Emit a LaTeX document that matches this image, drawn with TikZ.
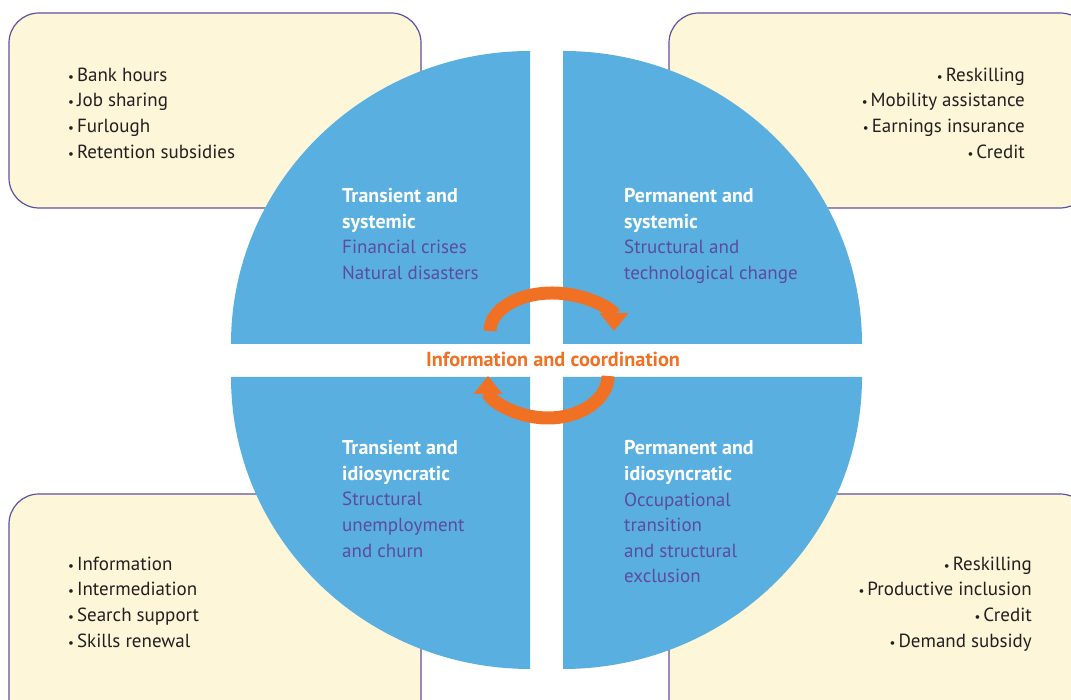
\documentclass[tikz,border=0pt]{standalone}
\usepackage{fontspec}
\setmainfont{PT Sans}
\usetikzlibrary{arrows.meta}
\definecolor{quadblue}{HTML}{5AAFE1}
\definecolor{boxfill}{HTML}{FEF6D8}
\definecolor{boxline}{HTML}{5E519F}
\definecolor{txtpurple}{HTML}{5B4C9C}
\definecolor{txtdark}{HTML}{231F20}
\definecolor{arrorange}{HTML}{F07124}
\newcommand{\hd}[1]{{\fontsize{20}{25.6}\selectfont\bfseries\color{white}#1}}
\newcommand{\itm}{{\fontsize{13}{13}\selectfont\textbullet}\hspace{3pt}}

\begin{document}
\begin{tikzpicture}[x=1pt,y=1pt,
	policybox/.style={draw=boxline,fill=boxfill,line width=1.2pt,% 
		rounded corners=30pt},
	quadrant/.style={fill=quadblue},
	listtext/.style={font=\fontsize{19}{25.6}\selectfont,text=txtdark,% 
		inner sep=0pt},
	quadtext/.style={font=\fontsize{19}{25.6}\selectfont,text=txtpurple,% 
		align=left,anchor=west,inner sep=0pt},
	cyclearrow/.style={draw=arrorange,line width=13pt,% 
		-{Triangle[width=28pt,length=18pt]}}]
	\useasboundingbox (0,0) rectangle (1071,700);
	\clip (0,0) rectangle (1071,700);
	% policy boxes
	\draw[policybox] (9,492) rectangle (421,687);
	\draw[policybox] (669,492) rectangle (1090,687);
	\draw[policybox] (9,-30) rectangle (421,206);
	\draw[policybox] (669,-30) rectangle (1090,206);
	% four quadrants
	\fill[quadrant] (530,356) -- (231,356) arc[start angle=180,end angle=90,x radius=299,y radius=293] -- cycle;
	\fill[quadrant] (563,356) -- (862,356) arc[start angle=0,end angle=90,x radius=299,y radius=293] -- cycle;
	\fill[quadrant] (530,323) -- (231,323) arc[start angle=180,end angle=270,x radius=299,y radius=292] -- cycle;
	\fill[quadrant] (563,323) -- (862,323) arc[start angle=0,end angle=-90,x radius=299,y radius=292] -- cycle;
	% quadrant labels
	\node[quadtext] (transys) at (342,466)
		{\hd{Transient and}\\ \hd{systemic}\\ Financial crises\\ Natural disasters};
	\node[quadtext] (permsys) at (624,464)
		{\hd{Permanent and}\\ \hd{systemic}\\ Structural and\\ technological change};
	\node[quadtext] (tranidio) at (342,201)
		{\hd{Transient and}\\ \hd{idiosyncratic}\\ Structural\\ unemployment\\ and churn};
	\node[quadtext] (permidio) at (624,188)
		{\hd{Permanent and}\\ \hd{idiosyncratic}\\ Occupational\\ transition\\ and structural\\ exclusion};
	% policy lists
	\node[listtext,align=left,anchor=west] (retain) at (68,587)
		{\itm Bank hours\\ \itm Job sharing\\ \itm Furlough\\ \itm Retention subsidies};
	\node[listtext,align=right,anchor=east] (adjust) at (1025,587)
		{\itm Reskilling\\ \itm Mobility assistance\\ \itm Earnings insurance\\ \itm Credit};
	\node[listtext,align=left,anchor=west] (match) at (68,98)
		{\itm Information\\ \itm Intermediation\\ \itm Search support\\ \itm Skills renewal};
	\node[listtext,align=right,anchor=east] (include) at (1032,96)
		{\itm Reskilling\\ \itm Productive inclusion\\ \itm Credit\\ \itm Demand subsidy};
	% cycle in the middle
	\draw[cyclearrow] (490,369) arc[start angle=180,end angle=0,x radius=62,y radius=38];
	\draw[cyclearrow] (608,324) arc[start angle=0,end angle=-180,x radius=60,y radius=42];
	\node[font=\bfseries\fontsize{20.3}{23}\selectfont,text=arrorange] (infocoord) at (553,341)
		{Information and coordination};
\end{tikzpicture}
\end{document}
